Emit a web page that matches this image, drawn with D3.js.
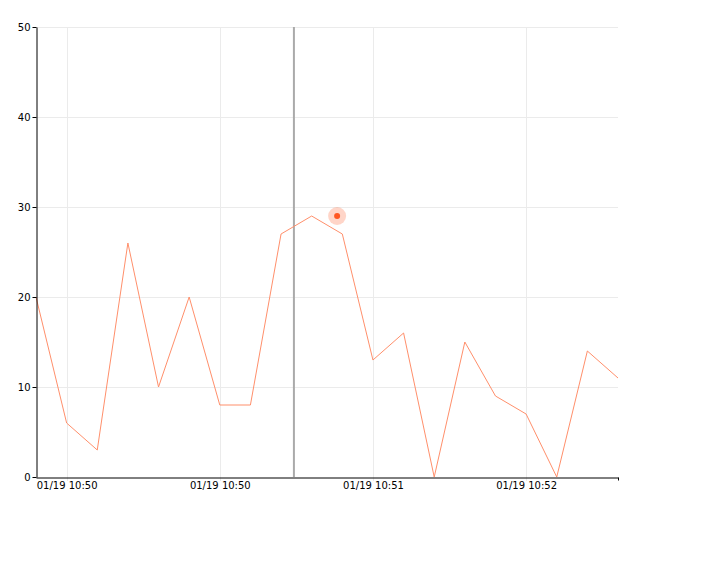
<!DOCTYPE html>
<html><head><meta charset="utf-8">
<script src="https://cdn.jsdelivr.net/npm/d3@7"></script>
<style>body{margin:0;background:#fff}text{font-family:"DejaVu Sans",sans-serif;font-size:10px;fill:#000}</style>
</head><body><svg id="c" width="702" height="576"></svg>
<script>
const values = [20, 6, 3, 26, 10, 20, 8, 8, 27, 29, 27, 13, 16, 0, 15, 9, 7, 0, 14, 11];
const tickIndexes = [1, 6, 11, 16];
const tickLabels = ["01/19 10:50", "01/19 10:50", "01/19 10:51", "01/19 10:52"];
const yTicks = [0, 10, 20, 30, 40, 50];
const crosshairIndex = 8.42;
const highlight = {index: 9.83, value: 29};

const svg = d3.select("#c");
const m = {l: 36, r: 84, t: 27, b: 99};
const W = 702, H = 576;
const x = d3.scaleLinear().domain([0, values.length - 1]).range([m.l, W - m.r]);
const y = d3.scaleLinear().domain([0, 50]).range([H - m.b, m.t]);

const g = svg.append("g");
// grid
g.selectAll(".hg").data(yTicks.slice(1)).enter().append("line")
  .attr("x1", m.l).attr("x2", W - m.r).attr("y1", d => y(d) + 0.5).attr("y2", d => y(d) + 0.5)
  .attr("stroke", "#ebebeb");
g.selectAll(".vg").data(tickIndexes).enter().append("line")
  .attr("x1", d => Math.round(x(d)) + 0.5).attr("x2", d => Math.round(x(d)) + 0.5)
  .attr("y1", m.t).attr("y2", H - m.b + 4).attr("stroke", "#ebebeb");

// crosshair
g.append("line").attr("x1", x(crosshairIndex)).attr("x2", x(crosshairIndex))
  .attr("y1", m.t).attr("y2", H - m.b).attr("stroke", "#aaa").attr("stroke-width", 2);

// line
g.append("path").datum(values)
  .attr("d", d3.line().x((d, i) => x(i)).y(d => y(d)))
  .attr("fill", "none").attr("stroke", "#ff8f6b").attr("stroke-width", 1);

// axes
const xa = g.append("g").attr("transform", `translate(0,${H - m.b + 0.5})`)
  .call(d3.axisBottom(x).tickValues(tickIndexes.concat([values.length - 1]))
    .tickFormat(d => { const k = tickIndexes.indexOf(d); return k >= 0 ? tickLabels[k] : ""; })
    .tickSize(3).tickSizeOuter(0));
xa.select(".domain").attr("stroke", "#000");
xa.selectAll("text").attr("y", 4).attr("dy", "0.71em");
xa.selectAll(".tick line").attr("stroke", d => tickIndexes.indexOf(d) >= 0 ? "none" : "#000");
const ya = g.append("g").attr("transform", `translate(${m.l + 0.5},0)`)
  .call(d3.axisLeft(y).tickValues(yTicks).tickSize(4).tickSizeOuter(0));
ya.select(".domain").attr("stroke", "#000");
ya.selectAll("text").attr("x", -6);
ya.selectAll(".tick line").attr("stroke", "#000");
svg.selectAll(".tick text").style("font-family", '"DejaVu Sans",sans-serif').style("font-size", "10px");

// highlight
g.append("circle").attr("cx", x(highlight.index)).attr("cy", y(highlight.value)).attr("r", 9)
  .attr("fill", "#ff5722").attr("fill-opacity", 0.25);
g.append("circle").attr("cx", x(highlight.index)).attr("cy", y(highlight.value)).attr("r", 3)
  .attr("fill", "#ff5722");
</script></body></html>
